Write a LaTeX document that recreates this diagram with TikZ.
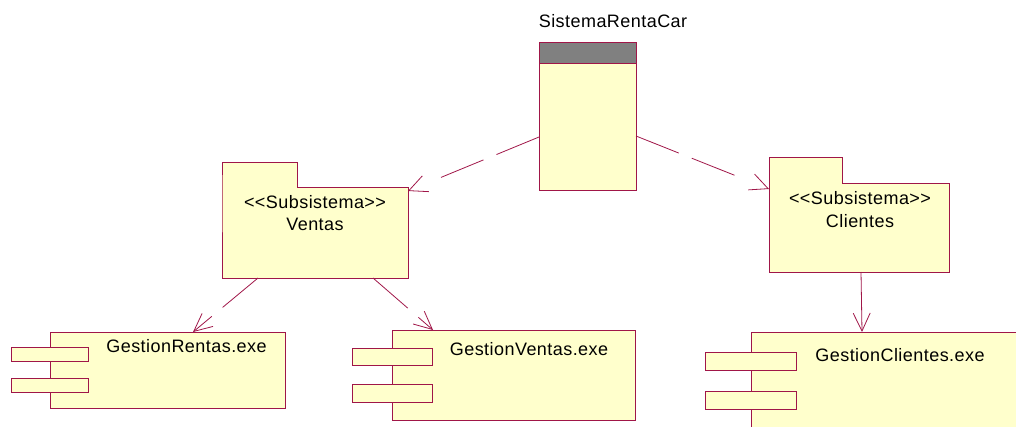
\documentclass[tikz,border=0pt]{standalone}
\usepackage{fontspec}
\newfontfamily\uifont[LetterSpace=2.5]{Liberation Sans}
\usetikzlibrary{arrows.meta}
\definecolor{roseline}{RGB}{160,22,72}
\definecolor{rosefill}{RGB}{255,255,204}
\definecolor{rosegray}{RGB}{128,128,128}
\begin{document}
\begin{tikzpicture}[x=1pt,y=-1pt,
  box/.style={draw=roseline, fill=rosefill, line width=0.9pt, inner sep=0pt, outer sep=0pt, rectangle},
  pkgfill/.style={fill=rosefill, draw=none, inner sep=0pt, outer sep=0pt, rectangle},
  outline/.style={draw=roseline, line width=0.9pt},
  lbl/.style={font={\uifont\fontsize{18}{20}\selectfont}, anchor=base, inner sep=0pt, text=black},
  dep/.style={draw=roseline, line width=0.8pt, -{Straight Barb[length=18pt,width=17pt]}},
  dashdep/.style={dep, dash pattern=on 46pt off 14pt on 46pt off 200pt}]
\clip (0,0) rectangle (1016,426);

% SistemaRentaCar
\node[box, minimum width=97pt, minimum height=148pt] (sys) at (587.5,116) {};
\node[box, fill=rosegray, minimum width=97pt, minimum height=21pt, anchor=north] (sysband) at (sys.north) {};
\node[lbl] (systitle) at (613,27) {SistemaRentaCar};

% Ventas package
\node[pkgfill, minimum width=75pt, minimum height=25pt] (vtab) at (259.5,174.5) {};
\node[pkgfill, minimum width=186pt, minimum height=91pt] (vbody) at (315,232.5) {};
\draw[outline] (vtab.south west) -- (vtab.north west) -- (vtab.north east) -- (vtab.south east)
  -- (vbody.north east) -- (vbody.south east) -- (vbody.south west) -- cycle;
\node[lbl] (vstereo) at (315,208) {<<Subsistema>>};
\node[lbl] (vname) at (315,230) {Ventas};

% Clientes package
\node[pkgfill, minimum width=73pt, minimum height=26pt] (ctab) at (805.5,170) {};
\node[pkgfill, minimum width=180pt, minimum height=89pt] (cbody) at (859,227.5) {};
\draw[outline] (ctab.south west) -- (ctab.north west) -- (ctab.north east) -- (ctab.south east)
  -- (cbody.north east) -- (cbody.south east) -- (cbody.south west) -- cycle;
\node[lbl] (cstereo) at (860,204) {<<Subsistema>>};
\node[lbl] (cname) at (860,227) {Clientes};

% GestionRentas.exe
\node[box, minimum width=235pt, minimum height=76pt] (rentas) at (167.5,370) {};
\node[box, minimum width=77pt, minimum height=14pt] (rport1) at (49.5,354) {};
\node[box, minimum width=77pt, minimum height=14pt] (rport2) at (49.5,385) {};
\node[lbl] (rtext) at (186.5,352) {GestionRentas.exe};

% GestionVentas.exe
\node[box, minimum width=243pt, minimum height=90pt] (gventas) at (513.5,375) {};
\node[box, minimum width=80pt, minimum height=17pt] (vport1) at (392,356.5) {};
\node[box, minimum width=80pt, minimum height=18pt] (vport2) at (392,393) {};
\node[lbl] (gvtext) at (529,355) {GestionVentas.exe};

% GestionClientes.exe
\node[box, minimum width=279pt, minimum height=108pt] (gclientes) at (890.5,386) {};
\node[box, minimum width=91pt, minimum height=18pt] (cport1) at (750.5,361) {};
\node[box, minimum width=91pt, minimum height=18pt] (cport2) at (750.5,400) {};
\node[lbl] (gctext) at (900,361) {GestionClientes.exe};

% connectors
\draw[dashdep] ([yshift=-21pt]sys.west) -- ([yshift=-4pt]vbody.north east);
\draw[dashdep] ([yshift=-20pt]sys.east) -- ([yshift=-6pt]cbody.north west);
\draw[dashdep] ([xshift=36pt]vbody.south west) -- ([xshift=25.5pt]rentas.north);
\draw[dashdep] ([xshift=-35pt]vbody.south east) -- ([xshift=41pt]gventas.north west);
\draw[dep] ([xshift=2pt]cbody.south) -- ([xshift=111pt]gclientes.north west);
\end{tikzpicture}
\end{document}
